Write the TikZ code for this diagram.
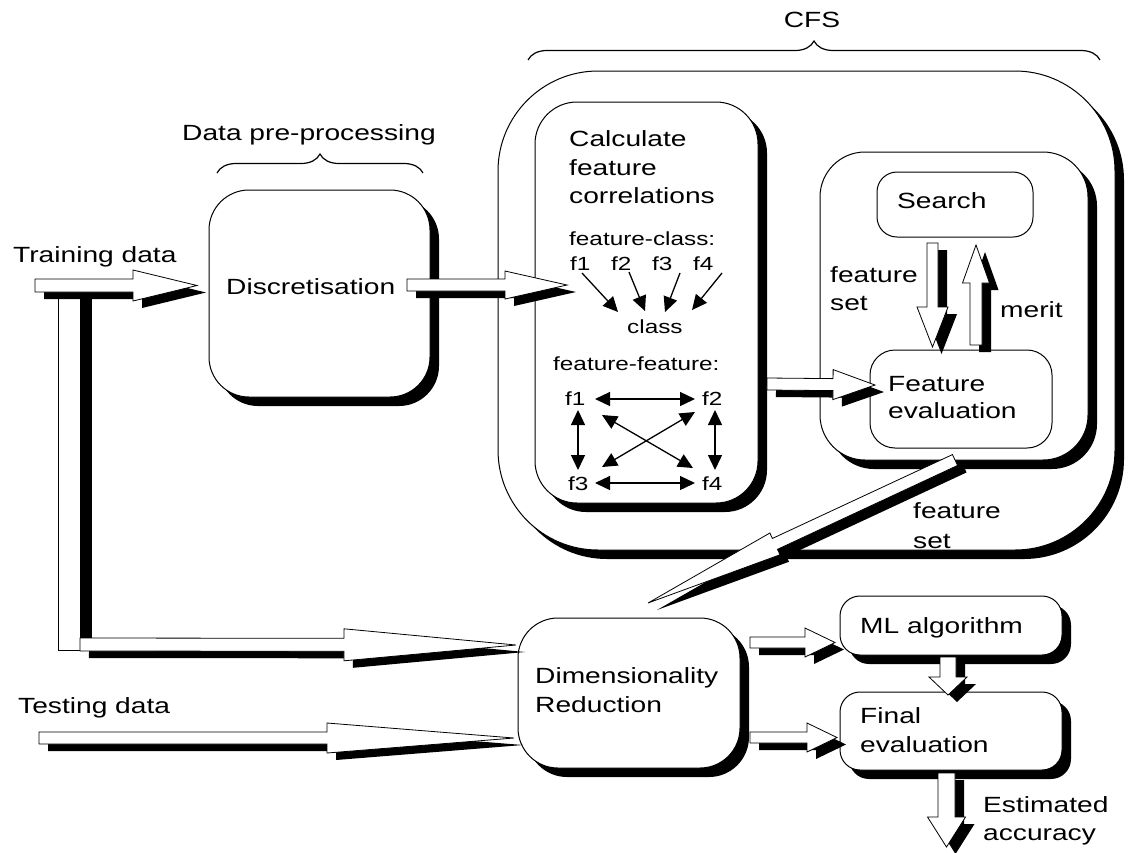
\documentclass[tikz,border=0pt]{standalone}
\usepackage{fontspec}
\setmainfont{Liberation Sans}[FakeStretch=1.28]
\usetikzlibrary{arrows.meta,shadows,decorations.pathreplacing}
\newdimen\baXa \newdimen\baYa \newdimen\baXb \newdimen\baYb
% block arrow: #1 tail, #2 tip, #3 half shaft, #4 half head, #5 head length
\newcommand\blockarrow[5]{%
  \pgfextractx{\baXa}{\pgfpointanchor{#1}{center}}%
  \pgfextracty{\baYa}{\pgfpointanchor{#1}{center}}%
  \pgfextractx{\baXb}{\pgfpointanchor{#2}{center}}%
  \pgfextracty{\baYb}{\pgfpointanchor{#2}{center}}%
  \pgfmathsetmacro\baang{atan2(\baYb-\baYa,\baXb-\baXa)}%
  \pgfmathsetmacro\balen{veclen(\baXb-\baXa,\baYb-\baYa)}%
  \pgfmathsetmacro\bahs{\balen-#5}%
  \fill[black,shift={(#1)},xshift=9pt,yshift=-7pt,rotate=\baang]
    (0pt,-#3pt) -- (\bahs pt,-#3pt) -- (\bahs pt,-#4pt) -- (\balen pt,0pt)
    -- (\bahs pt,#4pt) -- (\bahs pt,#3pt) -- (0pt,#3pt) -- cycle;
  \filldraw[arrowbody,shift={(#1)},rotate=\baang]
    (0pt,-#3pt) -- (\bahs pt,-#3pt) -- (\bahs pt,-#4pt) -- (\balen pt,0pt)
    -- (\bahs pt,#4pt) -- (\bahs pt,#3pt) -- (0pt,#3pt) -- cycle;
}
\begin{document}
\begin{tikzpicture}[x=1pt,y=-1pt,
  box/.style={draw=black,line width=1pt,fill=white,rounded corners=#1,inner sep=0pt,outer sep=0pt},
  sbox/.style={box=#1,drop shadow={opacity=1,fill=black,shadow xshift=9pt,shadow yshift=-9pt}},
  arrowbody/.style={fill=white,draw=black,line width=0.8pt,line join=miter},
  lbl/.style={inner sep=0pt,anchor=base west,font=\fontsize{22}{26}\selectfont},
  lblc/.style={inner sep=0pt,anchor=base,font=\fontsize{22}{26}\selectfont},
  sml/.style={inner sep=0pt,anchor=base west,font=\fontsize{19}{22}\selectfont},
  tarrow/.style={line width=1.3pt,-{Triangle[length=15pt,width=14pt]}},
  darrow/.style={line width=1.3pt,{Triangle[length=15pt,width=14pt]}-{Triangle[length=15pt,width=14pt]}},
  brc/.style={line width=1.2pt,decorate,decoration={brace,amplitude=19pt}},
]
\fill[white] (0,0) rectangle (1131,852);
\useasboundingbox (0,0) rectangle (1131,852);

% braces and headings
\coordinate (b1a) at (217,173);
\coordinate (b1b) at (423,173);
\coordinate (b2a) at (528,60);
\coordinate (b2b) at (1100,60);
\draw[brc] (b1a) -- (b1b);
\draw[brc] (b2a) -- (b2b);
\node[lblc] (cfs) at (812,27) {CFS};
\node[lbl] (dpp) at (182,140) {Data pre-processing};

% boxes
\node[sbox=40pt,minimum width=221pt,minimum height=207pt] (disc) at (319.5,293.5) {};
\node[sbox=100pt,minimum width=617pt,minimum height=479pt] (cfsbox) at (806.5,310.5) {};
\node[sbox=42pt,minimum width=223pt,minimum height=401pt] (calc) at (646.5,302.5) {};
\node[sbox=45pt,minimum width=268pt,minimum height=308pt] (scont) at (954,306) {};
\node[box=20pt,minimum width=156pt,minimum height=65pt] (search) at (955,204.5) {};
\node[box=25pt,minimum width=182pt,minimum height=98pt] (feval) at (961,399) {};
\node[sbox=40pt,minimum width=222pt,minimum height=150pt] (dim) at (629,693) {};
\node[sbox=20pt,minimum width=222pt,minimum height=59pt] (ml) at (951,625.5) {};
\node[sbox=20pt,minimum width=222pt,minimum height=78pt] (final) at (951,731) {};

% texts
\node[lbl] (trd) at (13,262) {Training data};
\node[lbl] (dis) at (226,294) {Discretisation};
\node[lbl] (cal1) at (569,146) {Calculate};
\node[lbl] (cal2) at (569,175) {feature};
\node[lbl] (cal3) at (569,203) {correlations};
\node[sml] (fcl) at (569,245) {feature-class:};
\node[sml] (fc1) at (570,270) {f1};
\node[sml] (fc2) at (611,270) {f2};
\node[sml] (fc3) at (652,270) {f3};
\node[sml] (fc4) at (693,270) {f4};
\node[sml] (cls) at (627,333) {class};
\node[sml] (ffl) at (553,370) {feature-feature:};
\node[sml] (ff1) at (565,405) {f1};
\node[sml] (ff2) at (702,405) {f2};
\node[sml] (ff3) at (568,490) {f3};
\node[sml] (ff4) at (702,490) {f4};
\node[lbl] (srch) at (897,208) {Search};
\node[lbl] (fs1) at (830,282) {feature};
\node[lbl] (fs2) at (830,310) {set};
\node[lbl] (mer) at (1000,317) {merit};
\node[lbl] (fe1) at (888,391) {Feature};
\node[lbl] (fe2) at (888,418) {evaluation};
\node[lbl] (fs3) at (913,518) {feature};
\node[lbl] (fs4) at (913,548) {set};
\node[lbl] (tsd) at (18,713) {Testing data};
\node[lbl] (dr1) at (535,683) {Dimensionality};
\node[lbl] (dr2) at (535,712) {Reduction};
\node[lbl] (mla) at (860,633) {ML algorithm};
\node[lbl] (fin1) at (860,723) {Final};
\node[lbl] (fin2) at (860,752) {evaluation};
\node[lbl] (est1) at (983,812) {Estimated};
\node[lbl] (est2) at (983,840) {accuracy};

% feature-class arrows
\coordinate (a1s) at (582,273); \coordinate (a1e) at (618,312);
\coordinate (a2s) at (629,272); \coordinate (a2e) at (645,311);
\coordinate (a3s) at (680,273); \coordinate (a3e) at (665,312);
\coordinate (a4s) at (722,273); \coordinate (a4e) at (692,310);
\draw[tarrow] (a1s) -- (a1e);
\draw[tarrow] (a2s) -- (a2e);
\draw[tarrow] (a3s) -- (a3e);
\draw[tarrow] (a4s) -- (a4e);

% feature-feature arrows
\coordinate (h12a) at (595,399); \coordinate (h12b) at (695,399);
\coordinate (h34a) at (595,483); \coordinate (h34b) at (695,483);
\coordinate (v13a) at (578,410); \coordinate (v13b) at (578,470);
\coordinate (v24a) at (715,410); \coordinate (v24b) at (715,470);
\coordinate (d14a) at (602,415); \coordinate (d14b) at (693,468);
\coordinate (d23a) at (695,412); \coordinate (d23b) at (602,467);
\draw[darrow] (h12a) -- (h12b);
\draw[darrow] (h34a) -- (h34b);
\draw[darrow] (v13a) -- (v13b);
\draw[darrow] (v24a) -- (v24b);
\draw[darrow] (d14a) -- (d14b);
\draw[darrow] (d23a) -- (d23b);

% training data bypass bar
\fill[black] (80,292) rectangle (92,640);
\filldraw[arrowbody] (58,292) rectangle (80,650);

% block arrows
\coordinate (trA) at (35,285.5);   \coordinate (trB) at (197,285.5);
\coordinate (dcA) at (407,285);    \coordinate (dcB) at (567,285);
\coordinate (byA) at (80,644.5);   \coordinate (byB) at (516,645);
\coordinate (tsA) at (39,738);     \coordinate (tsB) at (514,738);
\coordinate (cfA) at (767,384);    \coordinate (cfB) at (875,385);
\coordinate (fsA) at (932.5,243);  \coordinate (fsB) at (932.5,347);
\coordinate (mrA) at (976,345);    \coordinate (mrB) at (976,245);
\coordinate (dgA) at (955,460);    \coordinate (dgB) at (648,603);
\coordinate (dmA) at (750,642.5);  \coordinate (dmB) at (835,642.5);
\coordinate (dfA) at (750,737.5);  \coordinate (dfB) at (837,737.5);
\coordinate (mfA) at (948,657);    \coordinate (mfB) at (948,695);
\coordinate (eaA) at (946.5,773);  \coordinate (eaB) at (946.5,847);

\blockarrow{trA}{trB}{6.5}{15.5}{64}
\blockarrow{byA}{byB}{6.5}{16}{172}
\blockarrow{dcA}{dcB}{6}{14}{62}
\blockarrow{cfA}{cfB}{6}{15}{42}
\blockarrow{fsA}{fsB}{5.5}{15.5}{40}
\blockarrow{mrA}{mrB}{6}{13.5}{38}
\blockarrow{dgA}{dgB}{6}{12}{140}
\blockarrow{tsA}{tsB}{6}{15}{187}
\blockarrow{dmA}{dmB}{5.5}{14.5}{30}
\blockarrow{dfA}{dfB}{5.5}{14.5}{30}
\blockarrow{mfA}{mfB}{8}{19}{18}
\blockarrow{eaA}{eaB}{8.5}{19}{30}
\end{tikzpicture}
\end{document}
